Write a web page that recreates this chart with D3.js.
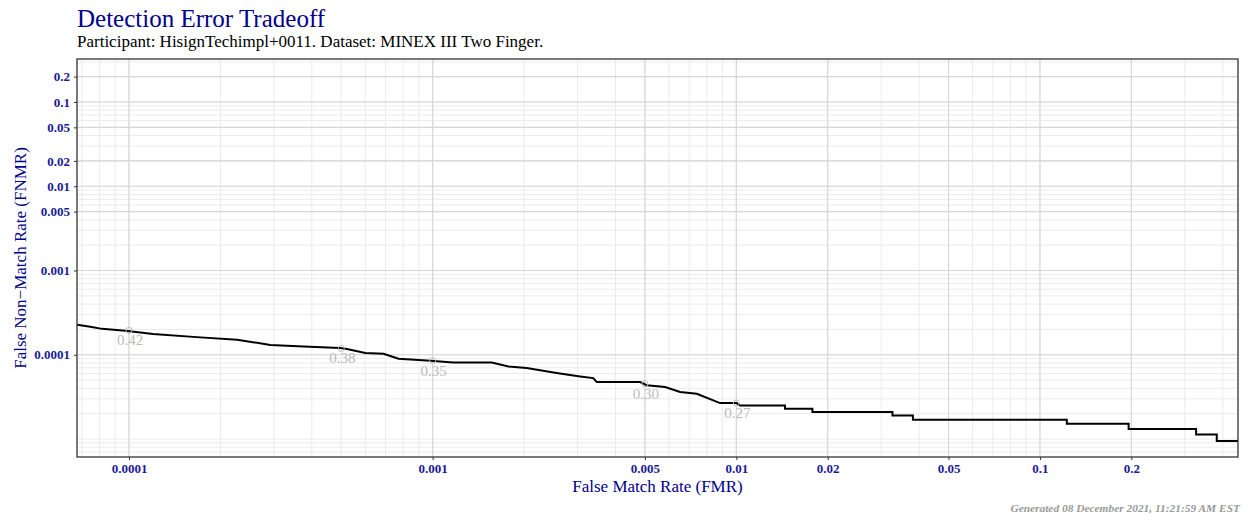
<!DOCTYPE html>
<html>
<head>
<meta charset="utf-8">
<script src="https://cdn.jsdelivr.net/npm/d3@7"></script>
<style>
  body { margin: 0; background: #fff; }
  text { font-family: "Liberation Serif", "DejaVu Serif", serif; }
</style>
</head>
<body>
<div id="chart"></div>
<script>
// DET curve vertices (FMR, FNMR)
var fmr = [6.74e-5, 7.46e-5, 8.15e-5, 9.72e-5, 1.20e-4, 1.67e-4, 2.27e-4, 2.92e-4, 3.76e-4, 4.96e-4,
  5.22e-4, 6.00e-4, 6.89e-4, 7.72e-4, 9.57e-4, 1.17e-3, 1.566e-3, 1.776e-3, 2.04e-3, 2.56e-3,
  3.06e-3, 3.38e-3, 3.47e-3, 4.82e-3, 5.07e-3, 5.83e-3, 6.53e-3, 7.41e-3, 8.84e-3, 0.01003,
  0.01028, 0.01446, 0.01446, 0.01781, 0.01781, 0.03268, 0.03268, 0.03816, 0.03816, 0.1226,
  0.1226, 0.1959, 0.1959, 0.3268, 0.3268, 0.3822, 0.3822, 0.449];
var fnmr = [2.27e-4, 2.15e-4, 2.03e-4, 1.93e-4, 1.76e-4, 1.62e-4, 1.51e-4, 1.31e-4, 1.254e-4, 1.20e-4,
  1.168e-4, 1.047e-4, 1.028e-4, 8.96e-5, 8.56e-5, 8.10e-5, 8.10e-5, 7.26e-5, 6.96e-5, 6.07e-5,
  5.53e-5, 5.29e-5, 4.74e-5, 4.74e-5, 4.35e-5, 4.14e-5, 3.61e-5, 3.45e-5, 2.67e-5, 2.67e-5,
  2.50e-5, 2.50e-5, 2.29e-5, 2.29e-5, 2.09e-5, 2.09e-5, 1.905e-5, 1.905e-5, 1.694e-5, 1.694e-5,
  1.519e-5, 1.519e-5, 1.314e-5, 1.314e-5, 1.134e-5, 1.134e-5, 9.47e-6, 9.47e-6];

// threshold annotations
var thrFmr = [0.0001, 0.0005, 0.001, 0.005, 0.01];
var thrFnmr = [1.95e-4, 1.19e-4, 8.5e-5, 4.53e-5, 2.67e-5];
var thrLabel = ["0.42", "0.38", "0.35", "0.30", "0.27"];

// axis ticks
var xTicks = [0.0001, 0.001, 0.005, 0.01, 0.02, 0.05, 0.1, 0.2];
var xTickLabels = ["0.0001", "0.001", "0.005", "0.01", "0.02", "0.05", "0.1", "0.2"];
var yTicks = [0.2, 0.1, 0.05, 0.02, 0.01, 0.005, 0.001, 0.0001];
var yTickLabels = ["0.2", "0.1", "0.05", "0.02", "0.01", "0.005", "0.001", "0.0001"];

var width = 1248, height = 516;
var margin = { top: 59, right: 10, bottom: 59, left: 77 };
var blue = "#00008b";

var svg = d3.select("#chart").append("svg")
  .attr("width", width)
  .attr("height", height);

var x = d3.scaleLog().domain([6.74e-5, 0.449]).range([margin.left, width - margin.right]);
var y = d3.scaleLog().domain([6.12e-6, 0.324]).range([height - margin.bottom, margin.top]);

// minor grid: every k * 10^n
function minors(lo, hi) {
  var out = [];
  for (var e = -6; e <= 0; e++) {
    for (var k = 1; k <= 9; k++) {
      var v = k * Math.pow(10, e);
      if (v >= lo && v <= hi) out.push(v);
    }
  }
  return out;
}

var grid = svg.append("g");
grid.selectAll(".xminor").data(minors(x.domain()[0], x.domain()[1])).enter().append("line")
  .attr("x1", function(d) { return x(d); }).attr("x2", function(d) { return x(d); })
  .attr("y1", margin.top).attr("y2", height - margin.bottom)
  .attr("stroke", "#ebebeb").attr("stroke-width", 1);
grid.selectAll(".yminor").data(minors(y.domain()[0], y.domain()[1])).enter().append("line")
  .attr("y1", function(d) { return y(d); }).attr("y2", function(d) { return y(d); })
  .attr("x1", margin.left).attr("x2", width - margin.right)
  .attr("stroke", "#ebebeb").attr("stroke-width", 1);
grid.selectAll(".xmajor").data(xTicks).enter().append("line")
  .attr("x1", function(d) { return x(d); }).attr("x2", function(d) { return x(d); })
  .attr("y1", margin.top).attr("y2", height - margin.bottom)
  .attr("stroke", "#d6d6d6").attr("stroke-width", 1.1);
grid.selectAll(".ymajor").data(yTicks).enter().append("line")
  .attr("y1", function(d) { return y(d); }).attr("y2", function(d) { return y(d); })
  .attr("x1", margin.left).attr("x2", width - margin.right)
  .attr("stroke", "#d6d6d6").attr("stroke-width", 1.1);

// axes
var xAxis = svg.append("g")
  .attr("transform", "translate(0," + (height - margin.bottom) + ")")
  .call(d3.axisBottom(x).tickValues(xTicks).tickSize(3).tickPadding(4)
    .tickFormat(function(d, i) { return xTickLabels[i]; }));
var yAxis = svg.append("g")
  .attr("transform", "translate(" + margin.left + ",0)")
  .call(d3.axisLeft(y).tickValues(yTicks).tickSize(3).tickPadding(4)
    .tickFormat(function(d, i) { return yTickLabels[i]; }));
[xAxis, yAxis].forEach(function(a) {
  a.select(".domain").remove();
  a.selectAll(".tick line").attr("stroke", "#333");
  a.selectAll(".tick text")
    .attr("fill", "#1a1a96")
    .style("font-family", "'Liberation Serif', serif")
    .style("font-size", "13px")
    .style("font-weight", "bold");
});

// curve
var pts = fmr.map(function(d, i) { return [d, fnmr[i]]; });
svg.append("path")
  .datum(pts)
  .attr("fill", "none")
  .attr("stroke", "#000")
  .attr("stroke-width", 2)
  .attr("stroke-linejoin", "miter")
  .attr("d", d3.line().x(function(d) { return x(d[0]); }).y(function(d) { return y(d[1]); }));

// threshold markers and labels
svg.selectAll(".thr").data(thrFmr).enter().append("circle")
  .attr("cx", function(d) { return x(d); })
  .attr("cy", function(d, i) { return y(thrFnmr[i]); })
  .attr("r", 3)
  .attr("fill", "none")
  .attr("stroke", "#bbbbbb")
  .attr("stroke-width", 1);
svg.selectAll(".thrlab").data(thrFmr).enter().append("text")
  .attr("x", function(d) { return x(d) + 1; })
  .attr("y", function(d, i) { return y(thrFnmr[i]) + 15; })
  .attr("text-anchor", "middle")
  .attr("fill", "#bbbbbb")
  .style("font-size", "15px")
  .text(function(d, i) { return thrLabel[i]; });

// panel border
svg.append("rect")
  .attr("x", margin.left).attr("y", margin.top)
  .attr("width", width - margin.left - margin.right)
  .attr("height", height - margin.top - margin.bottom)
  .attr("fill", "none")
  .attr("stroke", "#333")
  .attr("stroke-width", 1.3);

// titles
svg.append("text").attr("x", 77).attr("y", 27)
  .attr("fill", blue).style("font-size", "25px")
  .text("Detection Error Tradeoff");
svg.append("text").attr("x", 77).attr("y", 47)
  .attr("fill", "#000").style("font-size", "17px")
  .text("Participant: HisignTechimpl+0011. Dataset: MINEX III Two Finger.");
svg.append("text")
  .attr("x", (margin.left + width - margin.right) / 2).attr("y", 492)
  .attr("text-anchor", "middle").attr("fill", blue).style("font-size", "17px")
  .text("False Match Rate (FMR)");
svg.append("text")
  .attr("transform", "translate(26," + ((margin.top + height - margin.bottom) / 2) + ") rotate(-90)")
  .attr("text-anchor", "middle").attr("fill", blue).style("font-size", "17px")
  .text("False Non\u2212Match Rate (FNMR)");
svg.append("text")
  .attr("x", 1240).attr("y", 512)
  .attr("text-anchor", "end").attr("fill", "#999")
  .style("font-size", "11.4px").style("font-style", "italic").style("font-weight", "bold")
  .text("Generated 08 December 2021, 11:21:59 AM EST");
</script>
</body>
</html>
